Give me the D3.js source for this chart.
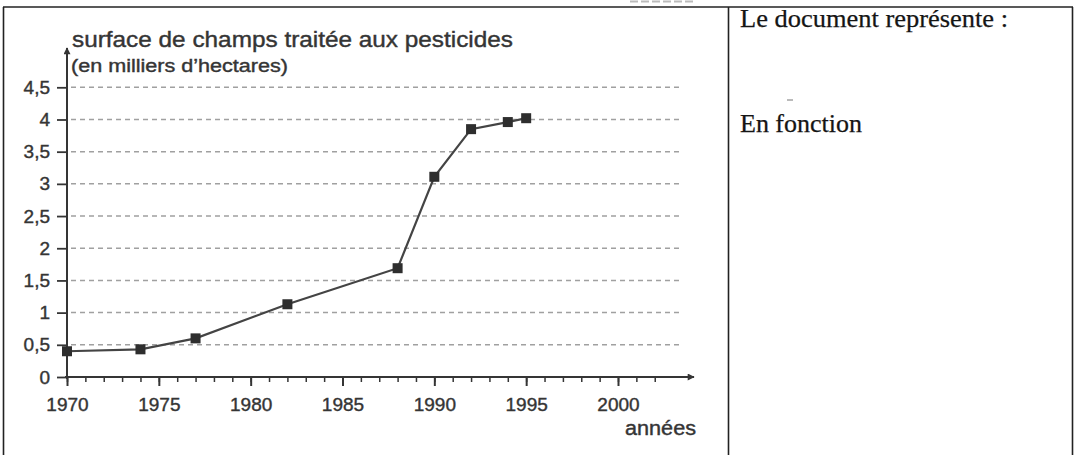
<!DOCTYPE html>
<html>
<head>
<meta charset="utf-8">
<script src="https://cdn.jsdelivr.net/npm/d3@7"></script>
<style>
  html, body { margin: 0; padding: 0; background: #fff; }
  svg { display: block; }
</style>
</head>
<body>
<svg id="chart" width="1076" height="455"></svg>
<script>
// ---- data ----
const years = [1970, 1974, 1977, 1982, 1988, 1990, 1992, 1994, 1995];
const surface = [0.40, 0.43, 0.60, 1.13, 1.69, 3.11, 3.85, 3.96, 4.02];
const yTicks = [0, 0.5, 1, 1.5, 2, 2.5, 3, 3.5, 4, 4.5];
const xTicks = [1970, 1975, 1980, 1985, 1990, 1995, 2000];
const xMinorTicks = d3.range(1970, 2003, 1);
const titleText = "surface de champs traitée aux pesticides";
const unitText = "(en milliers d\u2019hectares)";
const xAxisLabel = "années";
const sideTexts = ["Le document représente :", "En fonction"];

const svg = d3.select("#chart");
const ink = "#353535";
const sans = "Liberation Sans, Arial, sans-serif";

// ---- table frame ----
svg.append("line").attr("x1", 3).attr("x2", 1073).attr("y1", 7).attr("y2", 7)
  .attr("stroke", "#222").attr("stroke-width", 1.6);
[3.5, 728.5, 1072.5].forEach(xx => {
  svg.append("line").attr("x1", xx).attr("x2", xx).attr("y1", 7).attr("y2", 455)
    .attr("stroke", "#222").attr("stroke-width", 1.6);
});

// faint remnant marks above the frame (scan artifact)
svg.append("line").attr("x1", 630).attr("x2", 696).attr("y1", 1.5).attr("y2", 1.5)
  .attr("stroke", "#bbb").attr("stroke-width", 2).attr("stroke-dasharray", "8,3");

// ---- scales ----
const x = d3.scaleLinear().domain([1970, 2000]).range([67, 618]);
const y = d3.scaleLinear().domain([0, 4.5]).range([377, 87.3]);

// ---- grid ----
svg.append("g").selectAll("line").data(yTicks.filter(d => d > 0)).join("line")
  .attr("x1", 71).attr("x2", 683)
  .attr("y1", d => y(d)).attr("y2", d => y(d))
  .attr("stroke", "#a0a0a0").attr("stroke-width", 1.5)
  .attr("stroke-dasharray", "5,4");

// ---- y axis ----
const yAxis = svg.append("g").attr("transform", `translate(${x(1970)},0)`)
  .call(d3.axisLeft(y).tickValues(yTicks).tickSize(10).tickPadding(7)
    .tickFormat(d => String(d).replace(".", ",")));
yAxis.select(".domain").remove();
yAxis.selectAll(".tick line").attr("stroke", ink).attr("stroke-width", 1.8);
yAxis.selectAll(".tick text").attr("fill", ink).attr("stroke", ink).attr("stroke-width", 0.4)
  .attr("font-family", sans).attr("font-size", 19);

// ---- x axis ----
const xMinor = svg.append("g").attr("transform", `translate(0,${y(0)})`)
  .call(d3.axisBottom(x).tickValues(xMinorTicks).tickSize(5).tickFormat(""));
xMinor.select(".domain").remove();
xMinor.selectAll(".tick line").attr("stroke", ink).attr("stroke-width", 1.5);

const xAxis = svg.append("g").attr("transform", `translate(0,${y(0)})`)
  .call(d3.axisBottom(x).tickValues(xTicks).tickSize(9).tickFormat(d3.format("d")));
xAxis.select(".domain").remove();
xAxis.selectAll(".tick line").attr("stroke", ink).attr("stroke-width", 2);
xAxis.selectAll(".tick text").attr("fill", ink).attr("stroke", ink).attr("stroke-width", 0.4)
  .attr("y", 34).attr("dy", 0)
  .attr("font-family", sans).attr("font-size", 19);

// axis lines with arrows
svg.append("defs").append("marker").attr("id", "arrow")
  .attr("viewBox", "0 0 10 10").attr("refX", 9).attr("refY", 5)
  .attr("markerWidth", 4.5).attr("markerHeight", 3.5).attr("orient", "auto")
  .attr("markerUnits", "strokeWidth")
  .append("path").attr("d", "M0,0 L10,5 L0,10 z").attr("fill", ink);

svg.append("line").attr("x1", x(1970)).attr("x2", x(1970))
  .attr("y1", y(0) + 2).attr("y2", 48)
  .attr("stroke", ink).attr("stroke-width", 2).attr("marker-end", "url(#arrow)");
svg.append("line").attr("x1", x(1970) - 2).attr("x2", 694)
  .attr("y1", y(0)).attr("y2", y(0))
  .attr("stroke", ink).attr("stroke-width", 2).attr("marker-end", "url(#arrow)");

// ---- series ----
const pts = years.map((yr, i) => [yr, surface[i]]);
svg.append("path").datum(pts)
  .attr("d", d3.line().x(d => x(d[0])).y(d => y(d[1])))
  .attr("fill", "none").attr("stroke", "#444").attr("stroke-width", 2.2);
svg.append("g").selectAll("rect").data(pts).join("rect")
  .attr("x", d => x(d[0]) - 5).attr("y", d => y(d[1]) - 5)
  .attr("width", 10).attr("height", 10).attr("fill", "#2e2e2e");

// ---- chart texts ----
svg.append("text").attr("x", 72).attr("y", 47).text(titleText)
  .attr("font-family", sans).attr("font-size", 22)
  .attr("fill", ink).attr("stroke", ink).attr("stroke-width", 0.4)
  .attr("textLength", 441).attr("lengthAdjust", "spacingAndGlyphs");
svg.append("text").attr("x", 71).attr("y", 72).text(unitText)
  .attr("font-family", sans).attr("font-size", 18)
  .attr("fill", ink).attr("stroke", ink).attr("stroke-width", 0.4)
  .attr("textLength", 217).attr("lengthAdjust", "spacingAndGlyphs");
svg.append("text").attr("x", 625).attr("y", 435).text(xAxisLabel)
  .attr("font-family", sans).attr("font-size", 20)
  .attr("fill", ink).attr("stroke", ink).attr("stroke-width", 0.4)
  .attr("textLength", 71).attr("lengthAdjust", "spacingAndGlyphs");

// ---- right column ----
svg.append("text").attr("x", 740).attr("y", 27).text(sideTexts[0])
  .attr("font-family", "Liberation Serif, Times New Roman, serif").attr("font-size", 25)
  .attr("fill", "#151515").attr("stroke", "#151515").attr("stroke-width", 0.25)
  .attr("textLength", 268).attr("lengthAdjust", "spacingAndGlyphs");
svg.append("text").attr("x", 740).attr("y", 132).text(sideTexts[1])
  .attr("font-family", "Liberation Serif, Times New Roman, serif").attr("font-size", 25)
  .attr("fill", "#151515").attr("stroke", "#151515").attr("stroke-width", 0.25)
  .attr("textLength", 122).attr("lengthAdjust", "spacingAndGlyphs");
svg.append("line").attr("x1", 787).attr("x2", 793).attr("y1", 100).attr("y2", 100)
  .attr("stroke", "#777").attr("stroke-width", 1);
</script>
</body>
</html>
